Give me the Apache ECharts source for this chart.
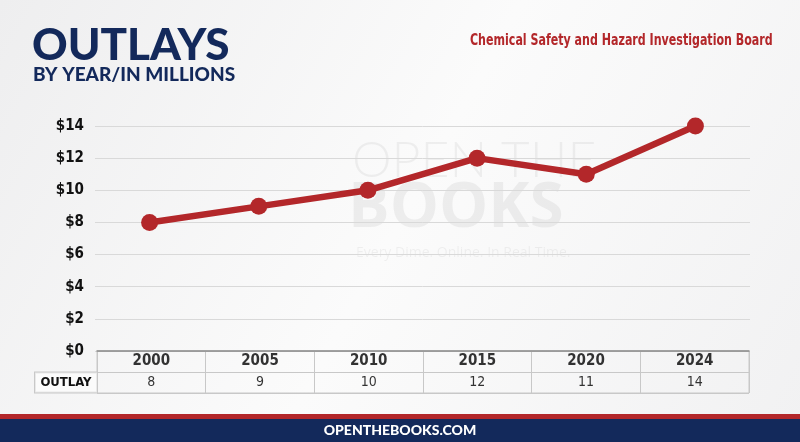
<!DOCTYPE html>
<html>
<head>
<meta charset="utf-8">
<script src="https://cdn.jsdelivr.net/npm/echarts@6/dist/echarts.min.js"></script>
<style>
  html, body { margin: 0; padding: 0; }
  #chart { width: 800px; height: 442px; }
</style>
</head>
<body>
<div id="chart"></div>
<script>
// data
var years = ['2000', '2005', '2010', '2015', '2020', '2024'];
var outlays = [8, 9, 10, 12, 11, 14];
var yTicks = { min: 0, max: 14, interval: 2 };
var rowNames = ['YEAR', 'OUTLAY'];

var navy = '#13295b', red = '#b3272a';
var cond = '"DejaVu Sans Condensed", Roboto, sans-serif';

var yearCells = years.map(function (y, i) { return [i, 'YEAR', y]; });
var valueCells = outlays.map(function (v, i) { return [i, 'OUTLAY', v]; });

var chart = echarts.init(document.getElementById('chart'));
chart.setOption({
  backgroundColor: {
    type: 'linear', x: 0, y: 0, x2: 1, y2: 1,
    colorStops: [{ offset: 0, color: '#eeeeef' }, { offset: 0.5, color: '#fbfbfb' }, { offset: 1, color: '#f1f1f2' }]
  },
  animation: false,
  graphic: [
    { type: 'text', left: 32, top: 24, style: { text: 'OUTLAYS', fill: navy, font: '900 44px Lato' } },
    { type: 'text', left: 33, top: 65, style: { text: 'BY YEAR/IN MILLIONS', fill: navy, font: '900 19px Lato' } },
    { type: 'text', left: 470, top: 34, scaleX: 0.82, style: { text: 'Chemical Safety and Hazard Investigation Board', fill: red, font: 'bold 15px ' + cond } },
    // watermark
    { type: 'text', left: 352, top: 136, z: -1, style: { text: 'OPEN THE', fill: 'rgba(0,0,0,0.05)', font: '300 50px Lato' } },
    { type: 'text', left: 348, top: 178, z: -1, style: { text: 'BOOKS', fill: 'rgba(0,0,0,0.055)', font: 'bold 62px "Open Sans"' } },
    { type: 'text', left: 356, top: 246, z: -1, style: { text: 'Every Dime. Online. In Real Time.', fill: 'rgba(0,0,0,0.05)', font: '14px "Open Sans"' } },
    // footer
    { type: 'rect', left: 0, top: 414, shape: { width: 800, height: 5 }, style: { fill: red } },
    { type: 'rect', left: 0, top: 419, shape: { width: 800, height: 23 }, style: { fill: navy } },
    { type: 'text', left: 'center', top: 423, style: { text: 'OPENTHEBOOKS.COM', fill: '#fff', font: '900 14px Lato', letterSpacing: 2 } }
  ],
  grid: [
    { left: 95, right: 50, top: 126, bottom: 91 },
    { left: 97, right: 51, top: 351, height: 42, show: true, borderColor: '#c8c8c8', borderWidth: 1 }
  ],
  xAxis: [
    {
      gridIndex: 0, type: 'category', data: years, boundaryGap: true,
      axisLine: { show: false }, axisTick: { show: false }, axisLabel: { show: false }
    },
    {
      gridIndex: 1, type: 'category', data: years, boundaryGap: true, position: 'top',
      axisLine: { show: true, lineStyle: { color: '#8c8c8c', width: 1.5 } },
      axisTick: { show: false }, axisLabel: { show: false },
      splitLine: { show: true, lineStyle: { color: '#c8c8c8', width: 1 } }
    }
  ],
  yAxis: [
    {
      gridIndex: 0, type: 'value', min: yTicks.min, max: yTicks.max, interval: yTicks.interval,
      axisLine: { show: false }, axisTick: { show: false },
      axisLabel: { formatter: '${value}', color: '#111', fontFamily: cond, fontWeight: 'bold', fontSize: 15, margin: 11 },
      splitLine: { lineStyle: { color: '#d9d9d9', width: 1 } }
    },
    {
      gridIndex: 1, type: 'category', data: rowNames, inverse: true, boundaryGap: true,
      axisLine: { show: false }, axisTick: { show: false },
      splitLine: { show: true, lineStyle: { color: '#c8c8c8', width: 1 } },
      axisLabel: {
        margin: 0,
        formatter: function (v) { return v === 'OUTLAY' ? '{b|' + v + '}' : ''; },
        rich: {
          b: {
            color: '#111', fontFamily: cond, fontWeight: 'bold', fontSize: 13,
            width: 62, height: 20, lineHeight: 20, align: 'center',
            borderColor: '#c8c8c8', borderWidth: 1, backgroundColor: 'rgba(255,255,255,0.6)'
          }
        }
      }
    }
  ],
  series: [
    {
      type: 'line', xAxisIndex: 0, yAxisIndex: 0, data: outlays,
      symbol: 'circle', symbolSize: 17,
      lineStyle: { color: red, width: 6.5 }, itemStyle: { color: red },
      z: 5
    },
    {
      type: 'scatter', xAxisIndex: 1, yAxisIndex: 1, data: yearCells, symbolSize: 0,
      label: { show: true, position: 'inside', formatter: function (p) { return p.value[2]; },
        color: '#000', fontFamily: cond, fontWeight: 'bold', fontSize: 15 }
    },
    {
      type: 'scatter', xAxisIndex: 1, yAxisIndex: 1, data: valueCells, symbolSize: 0,
      label: { show: true, position: 'inside', formatter: function (p) { return p.value[2]; },
        color: '#000', fontFamily: cond, fontWeight: 500, fontSize: 14 }
    }
  ]
});
</script>
</body>
</html>
